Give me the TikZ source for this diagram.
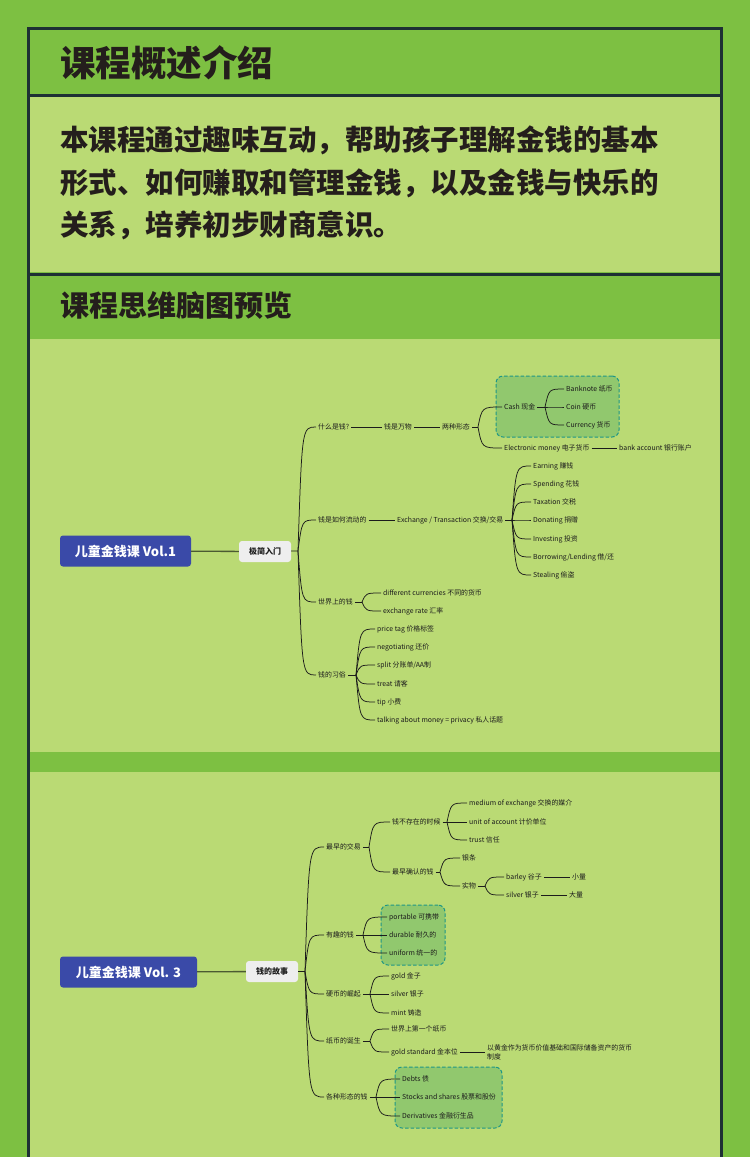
\documentclass[tikz,border=0pt]{standalone}
\usepackage{fontspec}
\setmainfont{Noto Sans CJK SC}
\usetikzlibrary{calc}
\definecolor{meadow}{RGB}{125,192,66}
\definecolor{pale}{RGB}{186,218,116}
\definecolor{framecol}{RGB}{30,48,52}
\definecolor{ink}{RGB}{28,28,28}
\definecolor{headink}{RGB}{36,30,28}
\definecolor{rootblue}{RGB}{58,74,168}
\definecolor{chipgrey}{RGB}{238,238,238}
\definecolor{boxgreen}{RGB}{145,200,110}
\definecolor{boxteal}{RGB}{30,150,135}
\definecolor{olive}{RGB}{75,90,50}

\begin{document}
\begin{tikzpicture}[x=1pt, y=-1pt,
    leaf/.style={anchor=west, inner xsep=2pt, inner ysep=1pt, text=ink, font=\fontsize{6.9}{9}\selectfont},
    root/.style={fill=rootblue, text=white, rounded corners=3pt, minimum height=31pt, font=\bfseries\fontsize{13}{15}\selectfont},
    chip/.style={fill=chipgrey, text=ink, rounded corners=3pt, minimum width=52pt, minimum height=21pt, font=\bfseries\fontsize{8}{9}\selectfont},
    dashbox/.style={fill=boxgreen, draw=boxteal, dash pattern=on 3.5pt off 2pt, line width=1pt, rounded corners=7pt, inner sep=0pt},
    heading/.style={anchor=west, inner sep=0pt, text=headink, font=\bfseries\fontsize{29}{32}\selectfont},
    link/.style={ink, line width=0.75pt},
    twig/.style={link, to path={.. controls ($(\tikztostart |- \tikztotarget) + (4, 0)$) .. (\tikztotarget)}},
    trunk/.style={olive, line width=1.3pt},
    frameline/.style={framecol, line width=3pt}]
    \useasboundingbox (0, 0) rectangle (750, 1157);

    % panels
    \fill [meadow] (0, 0) rectangle (750, 1157);
    \fill [pale] (30, 97) rectangle (720, 272);
    \fill [pale] (30, 339) rectangle (720, 752);
    \fill [pale] (30, 772) rectangle (720, 1157);
    \draw [frameline] (28.5, 1157) -- (28.5, 28.5) -- (721.5, 28.5) -- (721.5, 1157);
    \draw [frameline] (28.5, 95.5) -- (721.5, 95.5);
    \draw [frameline] (28.5, 274) -- (721.5, 274);

    \node [heading, font=\bfseries\fontsize{35.5}{38}\selectfont] (overview) at (60, 63) {课程概述介绍};
    \node [heading, font=\bfseries\fontsize{28.5}{32}\selectfont] (intro1) at (60, 140) {本课程通过趣味互动，帮助孩子理解金钱的基本};
    \node [heading, font=\bfseries\fontsize{28.5}{32}\selectfont] (intro2) at (60, 183) {形式、如何赚取和管理金钱，以及金钱与快乐的};
    \node [heading, font=\bfseries\fontsize{28.5}{32}\selectfont] (intro3) at (60, 225) {关系，培养初步财商意识。};
    \node [heading] (preview) at (60, 305) {课程思维脑图预览};

    % map vol.1
    \node [dashbox, minimum width=123pt, minimum height=61pt] (cashbox) at (557.5, 406.5) {};
    \node [root, minimum width=131pt] (vol1) at (125.5, 551) {儿童金钱课 Vol.1};
    \node [chip] (basic) at (265, 551.5) {极简入门};
    \coordinate (j0) at (298, 551);
    \draw [trunk] (vol1) -- (basic);
    \draw [link] (basic) -- (j0);

    \node [leaf] (what) at (316, 427) {什么是钱?};
    \node [leaf] (flow) at (316, 520) {钱是如何流动的};
    \node [leaf] (world) at (316, 602) {世界上的钱};
    \node [leaf] (custom) at (316, 675) {钱的习俗};
    \foreach \c in {what, flow, world, custom}
      \draw [twig] (j0) to (\c.west);

    \node [leaf] (all) at (382, 427) {钱是万物};
    \node [leaf] (forms) at (440, 427) {两种形态};
    \coordinate (jF) at (478, 427);
    \draw [link] (what) -- (all);
    \draw [link] (all) -- (forms);
    \draw [link] (forms) -- (jF);
    \node [leaf] (cash) at (502, 407) {Cash 现金};
    \node [leaf] (emoney) at (502, 448) {Electronic money 电子货币};
    \node [leaf] (bank) at (617, 448) {bank account 银行账户};
    \draw [twig] (jF) to (cash.west) (jF) to (emoney.west);
    \draw [link] (emoney) -- (bank);
    \coordinate (jC) at (545, 407);
    \draw [link] (cash) -- (jC);
    \node [leaf] (note) at (564, 389) {Banknote 纸币};
    \node [leaf] (coin) at (564, 407) {Coin 硬币};
    \node [leaf] (cur) at (564, 425) {Currency 货币};
    \foreach \c in {note, coin, cur}
      \draw [twig] (jC) to (\c.west);

    \node [leaf] (exch) at (395, 520) {Exchange / Transaction 交换/交易};
    \coordinate (jE) at (512, 520);
    \draw [link] (flow) -- (exch);
    \draw [link] (exch) -- (jE);
    \node [leaf] (earn) at (531, 466) {Earning 赚钱};
    \node [leaf] (spend) at (531, 484) {Spending 花钱};
    \node [leaf] (tax) at (531, 502) {Taxation 交税};
    \node [leaf] (donate) at (531, 520) {Donating 捐赠};
    \node [leaf] (invest) at (531, 539) {Investing 投资};
    \node [leaf] (borrow) at (531, 557) {Borrowing/Lending 借/还};
    \node [leaf] (steal) at (531, 575) {Stealing 偷盗};
    \foreach \c in {earn, spend, tax, donate, invest, borrow, steal}
      \draw [twig] (jE) to (\c.west);

    \coordinate (jW) at (362, 602);
    \draw [link] (world) -- (jW);
    \node [leaf] (diff) at (381, 593) {different currencies 不同的货币};
    \node [leaf] (rate) at (381, 611) {exchange rate 汇率};
    \draw [twig] (jW) to (diff.west) (jW) to (rate.west);

    \coordinate (jU) at (356, 675);
    \draw [link] (custom) -- (jU);
    \node [leaf] (tag) at (375, 629) {price tag 价格标签};
    \node [leaf] (haggle) at (375, 647) {negotiating 还价};
    \node [leaf] (split) at (375, 665) {split 分账单/AA制};
    \node [leaf] (treat) at (375, 684) {treat 请客};
    \node [leaf] (tip) at (375, 702) {tip 小费};
    \node [leaf] (privacy) at (375, 720) {talking about money = privacy 私人话题};
    \foreach \c in {tag, haggle, split, treat, tip, privacy}
      \draw [twig] (jU) to (\c.west);

    % map vol.3
    \node [dashbox, minimum width=64pt, minimum height=60pt] (funbox) at (413, 935) {};
    \node [dashbox, minimum width=107pt, minimum height=61pt] (kindbox) at (448.5, 1097.5) {};
    \node [root, minimum width=137pt] (vol3) at (128.5, 972) {儿童金钱课 Vol. 3};
    \node [chip] (story) at (272, 971.5) {钱的故事};
    \coordinate (j1) at (305, 971.5);
    \draw [trunk] (vol3) -- (story);
    \draw [link] (story) -- (j1);

    \node [leaf] (early) at (324, 847) {最早的交易};
    \node [leaf] (fun) at (324, 935) {有趣的钱};
    \node [leaf] (rise) at (324, 994) {硬币的崛起};
    \node [leaf] (paper) at (324, 1041) {纸币的诞生};
    \node [leaf] (kinds) at (324, 1097) {各种形态的钱};
    \foreach \c in {early, fun, rise, paper, kinds}
      \draw [twig] (j1) to (\c.west);

    \coordinate (jA) at (369, 847);
    \draw [link] (early) -- (jA);
    \node [leaf] (before) at (390, 822) {钱不存在的时候};
    \node [leaf] (first) at (390, 872) {最早确认的钱};
    \draw [twig] (jA) to (before.west) (jA) to (first.west);
    \coordinate (jB) at (447, 822);
    \draw [link] (before) -- (jB);
    \node [leaf] (medium) at (467, 803) {medium of exchange 交换的媒介};
    \node [leaf] (unit) at (467, 822) {unit of account 计价单位};
    \node [leaf] (trust) at (467, 840) {trust 信任};
    \foreach \c in {medium, unit, trust}
      \draw [twig] (jB) to (\c.west);
    \coordinate (jR) at (440, 872);
    \draw [link] (first) -- (jR);
    \node [leaf] (bar) at (460, 858) {银条};
    \node [leaf] (goods) at (460, 886) {实物};
    \draw [twig] (jR) to (bar.west) (jR) to (goods.west);
    \coordinate (jG) at (485, 886);
    \draw [link] (goods) -- (jG);
    \node [leaf] (barley) at (504, 877) {barley 谷子};
    \node [leaf] (silver) at (504, 895) {silver 银子};
    \draw [twig] (jG) to (barley.west) (jG) to (silver.west);
    \node [leaf] (few) at (570, 877) {小量};
    \node [leaf] (many) at (567, 895) {大量};
    \draw [link] (barley) -- (few);
    \draw [link] (silver) -- (many);

    \coordinate (jN) at (363, 935);
    \draw [link] (fun) -- (jN);
    \node [leaf] (portable) at (387, 917) {portable 可携带};
    \node [leaf] (durable) at (387, 935) {durable 耐久的};
    \node [leaf] (uniform) at (387, 953) {uniform 统一的};
    \foreach \c in {portable, durable, uniform}
      \draw [twig] (jN) to (\c.west);

    \coordinate (jM) at (370, 994);
    \draw [link] (rise) -- (jM);
    \node [leaf] (gold) at (389, 976) {gold 金子};
    \node [leaf] (silvercoin) at (389, 994) {silver 银子};
    \node [leaf] (mint) at (389, 1013) {mint 铸造};
    \foreach \c in {gold, silvercoin, mint}
      \draw [twig] (jM) to (\c.west);

    \coordinate (jP) at (370, 1041);
    \draw [link] (paper) -- (jP);
    \node [leaf] (firstnote) at (389, 1029) {世界上第一个纸币};
    \node [leaf] (standard) at (389, 1052) {gold standard 金本位};
    \draw [twig] (jP) to (firstnote.west) (jP) to (standard.west);
    \node [leaf, align=left] (meaning) at (485, 1052) {以黄金作为货币价值基础和国际储备资产的货币\\制度};
    \draw [link] (standard) -- (standard -| meaning.west);

    \coordinate (jK) at (376, 1097);
    \draw [link] (kinds) -- (jK);
    \node [leaf] (debts) at (400, 1079) {Debts 债};
    \node [leaf] (stocks) at (400, 1097) {Stocks and shares 股票和股份};
    \node [leaf] (deriv) at (400, 1116) {Derivatives 金融衍生品};
    \foreach \c in {debts, stocks, deriv}
      \draw [twig] (jK) to (\c.west);
  \end{tikzpicture}
\end{document}
